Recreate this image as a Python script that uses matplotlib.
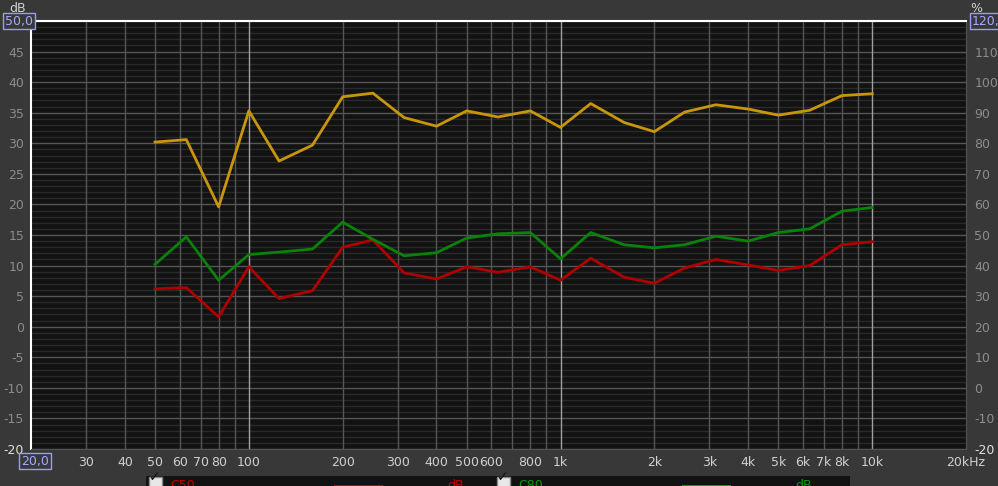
import matplotlib
matplotlib.use("Agg")
import matplotlib.pyplot as plt
from matplotlib.patches import Rectangle
import numpy as np

# third-octave band centres (Hz)
freqs = [50, 63, 80, 100, 125, 160, 200, 250, 315, 400, 500, 630, 800,
         1000, 1250, 1600, 2000, 2500, 3150, 4000, 5000, 6300, 8000, 10000]

# C50 (dB), red
c50 = [6.2, 6.4, 1.6, 9.8, 4.6, 5.9, 13.0, 14.2, 8.8, 7.8, 9.8, 8.9, 9.8,
       7.6, 11.2, 8.1, 7.1, 9.6, 11.0, 10.1, 9.2, 10.0, 13.4, 13.9]

# C80 (dB), green
c80 = [10.2, 14.7, 7.6, 11.8, 12.2, 12.7, 17.1, 14.3, 11.6, 12.1, 14.5, 15.2, 15.4,
       11.1, 15.4, 13.4, 12.9, 13.4, 14.8, 14.0, 15.4, 16.0, 18.9, 19.5]

# D50 (%), yellow, right axis
d50 = [80.4, 81.2, 59.2, 90.6, 74.2, 79.4, 95.2, 96.4, 88.4, 85.6, 90.6, 88.6, 90.6,
       85.2, 93.0, 86.8, 83.8, 90.2, 92.6, 91.2, 89.2, 90.8, 95.6, 96.2]

x_ticks = [30, 40, 50, 60, 70, 80, 100, 200, 300, 400, 500, 600, 800,
           1000, 2000, 3000, 4000, 5000, 6000, 7000, 8000, 10000, 20000]
x_labels = ["30", "40", "50", "60", "70", "80", "100", "200", "300", "400", "500", "600", "800",
            "1k", "2k", "3k", "4k", "5k", "6k", "7k", "8k", "10k", "20kHz"]

W, H = 998, 486
fig = plt.figure(figsize=(W / 100, H / 100), dpi=100, facecolor="#383838")

L, R, T, B = 31, 966, 21, 449
ax = fig.add_axes([L / W, 1 - B / H, (R - L) / W, (B - T) / H])
ax.set_facecolor("#121212")
ax.set_xscale("log")
ax.set_xlim(20, 20000)
ax.set_ylim(-20, 50)

# grid
for y in range(-20, 51):
    if y % 5 == 0:
        ax.axhline(y, color="#555555", lw=1, zorder=1)
    else:
        ax.axhline(y, color="#2a2a2a", lw=1, zorder=0.5)
vlines = list(range(30, 100, 10)) + list(range(200, 1000, 100)) + list(range(2000, 10000, 1000))
for v in vlines:
    ax.axvline(v, color="#555555", lw=1, zorder=1)
for v in [100, 1000, 10000]:
    ax.axvline(v, color="#a0a0a0", lw=1, zorder=1.2)

ax.plot(freqs, c50, color="#b00000", lw=2, zorder=3)
ax.plot(freqs, c80, color="#0a820a", lw=2, zorder=3)

for s in ["left", "top"]:
    ax.spines[s].set_color("#ffffff")
    ax.spines[s].set_linewidth(1.5)
for s in ["right", "bottom"]:
    ax.spines[s].set_color("#555555")

ax.set_xticks(x_ticks)
ax.set_xticklabels(x_labels)
ax.xaxis.set_minor_locator(matplotlib.ticker.NullLocator())
ax.set_yticks(list(range(-20, 50, 5)))
ax.set_yticklabels([str(v) for v in range(-20, 50, 5)])
ax.tick_params(axis="x", length=0, pad=5, colors="#d0d0d0", labelsize=9)
ax.tick_params(axis="y", length=0, pad=5, colors="#8c8c8c", labelsize=9)
ax.get_yticklabels()[0].set_color("#e0e0e0")

ax2 = ax.twinx()
ax2.set_ylim(-20, 120)
ax2.plot(freqs, d50, color="#c8960a", lw=2, zorder=3)
ax2.set_yticks(list(range(-20, 120, 10)))
ax2.set_yticklabels([str(v) for v in range(-20, 120, 10)])
ax2.tick_params(axis="y", length=0, pad=6, colors="#8c8c8c", labelsize=9)
ax2.get_yticklabels()[0].set_color("#e0e0e0")
for s in ax2.spines.values():
    s.set_visible(False)

# axis unit labels and boxed range values
box = dict(boxstyle="square,pad=0.15", facecolor="#383838", edgecolor="#9a9aff", lw=1)
fig.text(26 / W, 1 - 9 / H, "dB", color="#d0d0d0", fontsize=9, ha="right", va="center")
fig.text(5 / W, 1 - 21 / H, "50,0", color="#a8a8ff", fontsize=9, ha="left", va="center", bbox=box)
fig.text(976 / W, 1 - 9 / H, "%", color="#d0d0d0", fontsize=9, ha="center", va="center")
fig.text(972 / W, 1 - 21 / H, "120,0", color="#a8a8ff", fontsize=9, ha="left", va="center", bbox=box)
fig.text(21 / W, 1 - 461 / H, "20,0", color="#a8a8ff", fontsize=9, ha="left", va="center", bbox=box)

# cut-off legend panel at the bottom
lg = fig.add_axes([146 / W, 0, (850 - 146) / W, 10 / H])
lg.set_xlim(146, 850)
lg.set_ylim(0, 10)
lg.set_facecolor("#121212")
lg.set_xticks([])
lg.set_yticks([])
for s in lg.spines.values():
    s.set_visible(False)
for x0, name, col, b0 in [(149, "C50", "#c00000", 334), (497, "C80", "#0a9a0a", 682)]:
    lg.add_patch(Rectangle((x0, -2), 13, 11, facecolor="#e8e8e8", edgecolor="#888888"))
    lg.text(x0 + 6, 2, "\u2713", color="#111111", fontsize=10, ha="center", va="bottom")
    lg.text(x0 + 21, 1, name, color=col, fontsize=9, ha="left", va="center")
    lg.add_patch(Rectangle((b0, -2), 49, 3, facecolor=col))
    lg.text(b0 + 113, 1, "dB", color=col, fontsize=9, ha="left", va="center")

fig.savefig("out.png", dpi=100, facecolor=fig.get_facecolor())
